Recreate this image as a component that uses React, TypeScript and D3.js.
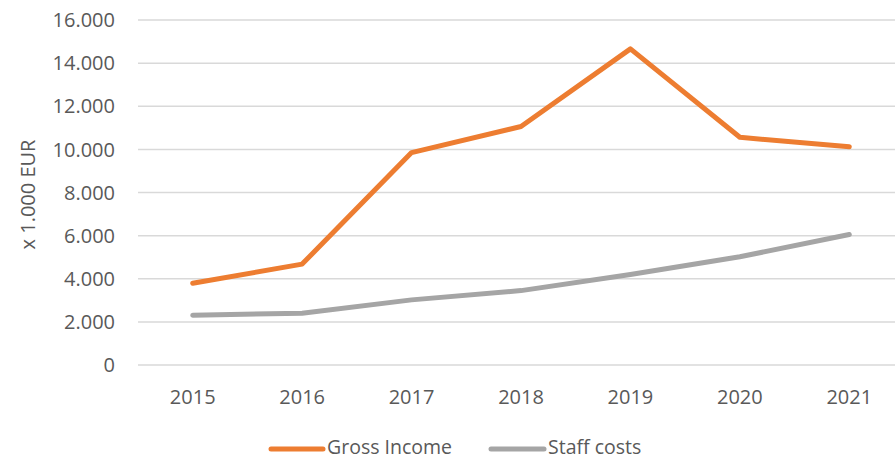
import React from "react";
import * as d3 from "d3";

const years = ["2015", "2016", "2017", "2018", "2019", "2020", "2021"];
const grossIncome = [3790, 4680, 9850, 11060, 14660, 10560, 10120];
const staffCosts = [2310, 2400, 3020, 3450, 4200, 5020, 6050];
const yTicks = [0, 2000, 4000, 6000, 8000, 10000, 12000, 14000, 16000];

const W = 895;
const H = 460;
const left = 138;
const right = 904;
const top = 20;
const bottom = 365;
const font = "'Open Sans', sans-serif";
const fs = 20;
const textColor = "#595959";

const fmt = (v: number) => (v === 0 ? "0" : d3.format(",")(v).replace(/,/g, "."));

export default function App() {
  const x = d3.scalePoint<string>().domain(years).range([left, right]).padding(0.5);
  const y = d3.scaleLinear().domain([0, 16000]).range([bottom, top]);
  const line = d3
    .line<number>()
    .x((_, i) => x(years[i]) as number)
    .y((d) => y(d));
  const legendY = 448;

  return (
    <svg width={W} height={H} style={{ position: "absolute", left: 0, top: 0, background: "#fff" }}>
      {yTicks.map((t) => (
        <g key={t}>
          <line x1={left} x2={W} y1={y(t)} y2={y(t)} stroke="#d9d9d9" strokeWidth={1.5} />
          <text x={115} y={y(t)} dy="0.36em" textAnchor="end" fontSize={fs} fill={textColor} fontFamily={font}>
            {fmt(t)}
          </text>
        </g>
      ))}
      {years.map((yr) => (
        <text key={yr} x={x(yr)} y={404} textAnchor="middle" fontSize={fs} fill={textColor} fontFamily={font}>
          {yr}
        </text>
      ))}
      <text
        transform={`translate(35,${(top + bottom) / 2 + 2}) rotate(-90)`}
        textAnchor="middle"
        fontSize={fs}
        fill={textColor}
        fontFamily={font}
      >
        x 1.000 EUR
      </text>
      <path d={line(staffCosts) || ""} fill="none" stroke="#a5a5a5" strokeWidth={5} strokeLinecap="round" strokeLinejoin="round" />
      <path d={line(grossIncome) || ""} fill="none" stroke="#ed7d31" strokeWidth={5} strokeLinecap="round" strokeLinejoin="round" />
      <line x1={271} x2={323} y1={449} y2={449} stroke="#ed7d31" strokeWidth={5} strokeLinecap="round" />
      <text x={327} y={legendY} dy="0.3em" fontSize={19.5} fill={textColor} fontFamily={font}>
        Gross Income
      </text>
      <line x1={491} x2={544} y1={449} y2={449} stroke="#a5a5a5" strokeWidth={5} strokeLinecap="round" />
      <text x={548} y={legendY} dy="0.3em" fontSize={19.5} fill={textColor} fontFamily={font}>
        Staff costs
      </text>
    </svg>
  );
}
